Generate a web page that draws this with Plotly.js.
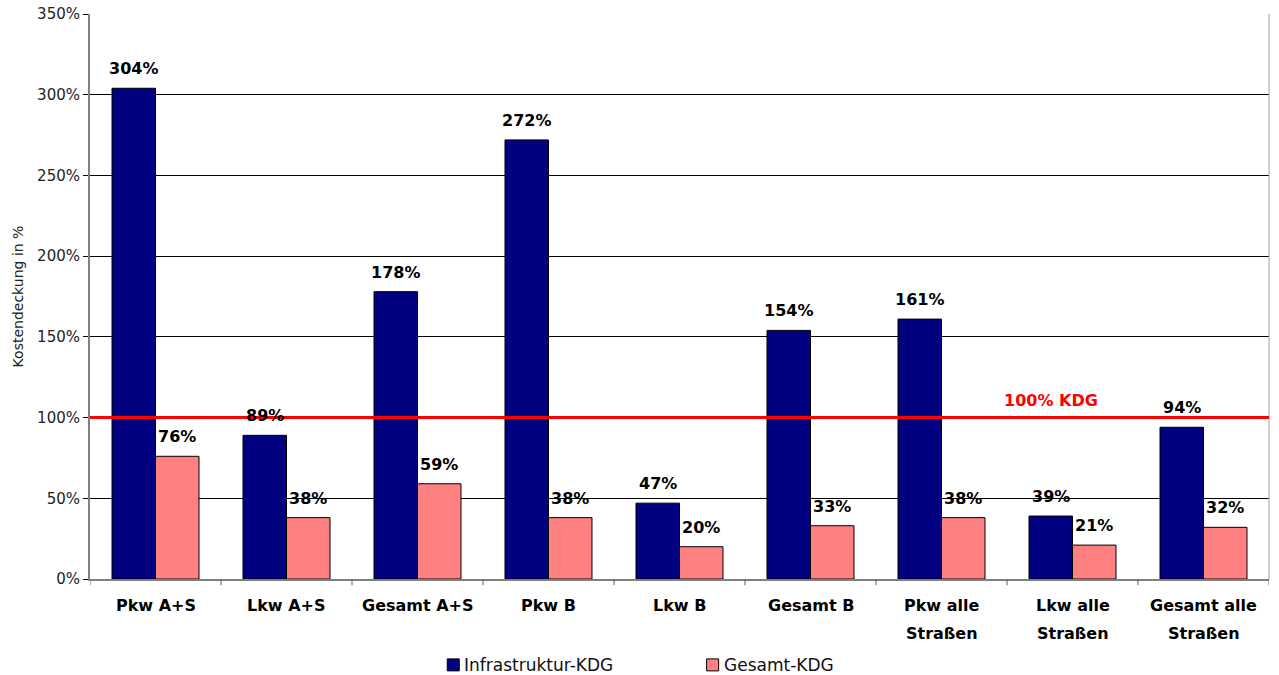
<!DOCTYPE html>
<html>
<head>
<meta charset="utf-8">
<script src="https://cdn.plot.ly/plotly-3.0.1.min.js"></script>
<style>
  html, body { margin: 0; padding: 0; background: #fff; }
  #chart { width: 1279px; height: 675px; }
</style>
</head>
<body>
<div id="chart"></div>
<script>
// Kostendeckungsgrade nach Fahrzeugart und Straßennetz
const categories = [
  "Pkw A+S", "Lkw A+S", "Gesamt A+S",
  "Pkw B", "Lkw B", "Gesamt B",
  "Pkw alle\nStraßen", "Lkw alle\nStraßen", "Gesamt alle\nStraßen"
];
const seriesNames = ["Infrastruktur-KDG", "Gesamt-KDG"];
const infrastrukturKDG = [304, 89, 178, 272, 47, 154, 161, 39, 94];
const gesamtKDG = [76, 38, 59, 38, 20, 33, 38, 21, 32];
const seriesColors = ["#000080", "#FF8080"];
const yTickVals = [0, 50, 100, 150, 200, 250, 300, 350];
const yTickText = ["0%", "50%", "100%", "150%", "200%", "250%", "300%", "350%"];
const referenceLevel = 100;
const referenceLabel = "100% KDG";

const FONT = "'DejaVu Sans', 'Open Sans', sans-serif";

const idx = categories.map((_, i) => i);
const seriesValues = [infrastrukturKDG, gesamtKDG];

const traces = seriesValues.map((vals, s) => ({
  type: "bar",
  name: seriesNames[s],
  x: idx,
  y: vals,
  marker: { color: seriesColors[s], line: { color: "#000000", width: 1 } },
  showlegend: false,
  hoverinfo: "skip"
}));

const annotations = [];

// value labels above each bar
const barOffset = 0.166;
seriesValues.forEach((vals, s) => {
  idx.forEach(i => {
    annotations.push({
      x: i + (s === 0 ? -barOffset : barOffset), y: vals[i], xref: "x", yref: "y",
      text: "<b>" + vals[i] + "%</b>",
      showarrow: false, xanchor: "center", yanchor: "bottom", yshift: 8,
      font: { family: FONT, size: 16, color: "#000" }
    });
  });
});

// category labels below the axis, one row per text line
idx.forEach(i => {
  categories[i].split("\n").forEach((line, row) => {
    annotations.push({
      x: i, xref: "x", y: 0, yref: "paper",
      text: "<b>" + line + "</b>",
      showarrow: false, xanchor: "center", yanchor: "middle",
      yshift: -26 - row * 28,
      font: { family: FONT, size: 16, color: "#000" }
    });
  });
});

// label of the 100 % reference line
annotations.push({
  x: 0.815, xref: "paper", y: referenceLevel, yref: "y",
  text: "<b>" + referenceLabel + "</b>",
  showarrow: false, xanchor: "center", yanchor: "bottom", yshift: 6,
  font: { family: FONT, size: 16, color: "#FF0000" }
});

// legend drawn below the chart
const legendX = [0.303, 0.523];
const legendY = -0.152;
const shapes = [];
seriesNames.forEach((name, s) => {
  shapes.push({
    type: "rect", xref: "paper", yref: "paper",
    x0: legendX[s], x1: legendX[s] + 0.0102,
    y0: legendY - 0.0106, y1: legendY + 0.0106,
    fillcolor: seriesColors[s], line: { color: "#000", width: 1 }
  });
  annotations.push({
    x: legendX[s] + 0.0102, xref: "paper", y: legendY, yref: "paper",
    text: name, showarrow: false, xanchor: "left", yanchor: "middle", xshift: 3,
    font: { family: FONT, size: 17, color: "#111" }
  });
});

// category separator ticks under the axis
for (let k = 0; k <= categories.length; k++) {
  shapes.push({
    type: "line", xref: "x", yref: "paper",
    x0: k - 0.5, x1: k - 0.5, y0: 0, y1: -0.011,
    line: { color: "#606060", width: 1 }
  });
}
// right border of the plot area
shapes.push({ type: "line", xref: "paper", yref: "paper", x0: 1, x1: 1, y0: 0, y1: 1,
  line: { color: "#a0a0a0", width: 1 } });
// 100 % cost-coverage reference line
shapes.push({ type: "line", xref: "paper", yref: "y", x0: 0, x1: 1,
  y0: referenceLevel, y1: referenceLevel,
  line: { color: "#FF0000", width: 3 } });

const layout = {
  width: 1279,
  height: 675,
  margin: { l: 90, r: 10, t: 14, b: 96 },
  paper_bgcolor: "#ffffff",
  plot_bgcolor: "#ffffff",
  font: { family: FONT, color: "#000" },
  barmode: "group",
  bargap: 0.336,
  bargroupgap: 0,
  showlegend: false,
  xaxis: {
    range: [-0.5, categories.length - 0.5],
    showticklabels: false,
    showgrid: false,
    zeroline: false,
    showline: true,
    linecolor: "#808080",
    linewidth: 2,
    ticks: "",
    fixedrange: true
  },
  yaxis: {
    range: [0, 350],
    tickvals: yTickVals,
    ticktext: yTickText,
    tickfont: { family: FONT, size: 15, color: "#222" },
    ticks: "outside",
    ticklen: 5,
    tickcolor: "#000",
    showgrid: true,
    gridcolor: "#000000",
    gridwidth: 1,
    zeroline: false,
    showline: true,
    linecolor: "#808080",
    linewidth: 2,
    title: { text: "Kostendeckung in %", font: { family: FONT, size: 14, color: "#222" }, standoff: 10 },
    fixedrange: true
  },
  shapes: shapes,
  annotations: annotations
};

Plotly.newPlot("chart", traces, layout, { displayModeBar: false, staticPlot: true });
</script>
</body>
</html>
